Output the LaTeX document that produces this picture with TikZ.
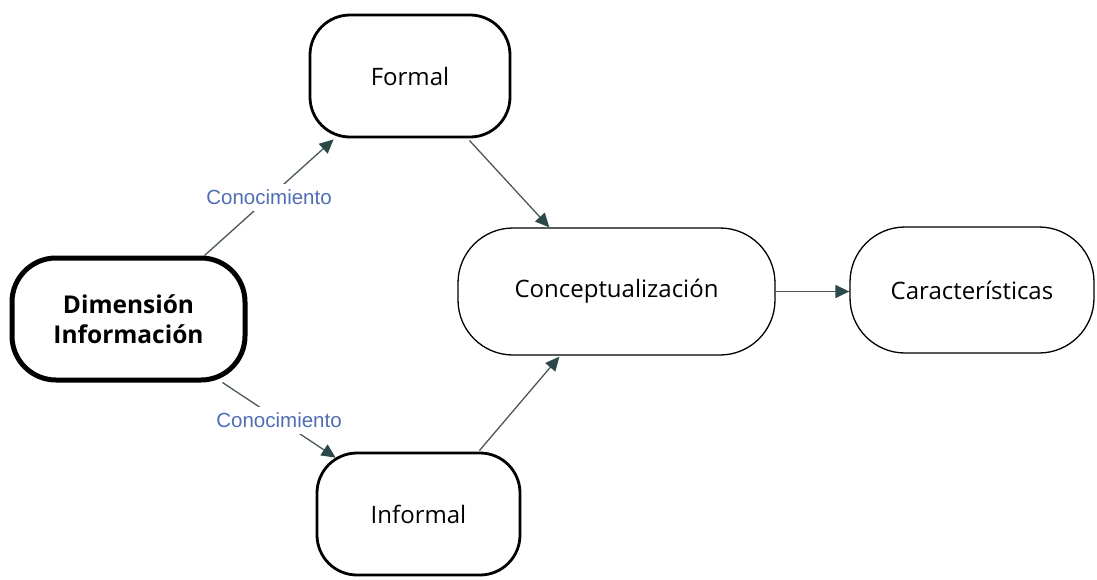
\documentclass[tikz,border=0pt]{standalone}
\usepackage{fontspec}
\setmainfont{Open Sans}
\newfontfamily\linkfont{Liberation Sans}
\usetikzlibrary{arrows.meta,calc}
\definecolor{arrowgray}{RGB}{75,88,88}
\definecolor{tipteal}{RGB}{45,72,72}
\definecolor{linkblue}{RGB}{80,110,180}

\begin{document}
\begin{tikzpicture}[x=1pt,y=-1pt,
  box/.style={draw=black, fill=white, align=center, inner sep=0pt,
    font=\fontsize{24}{30}\selectfont},
  heavybox/.style={box, line width=5pt, rounded corners=44pt},
  mediumbox/.style={box, line width=2.8pt, rounded corners=40pt},
  lightbox/.style={box, line width=1.3pt, rounded corners=55pt},
  link/.style={draw=arrowgray, line width=1.3pt,
    -{Triangle[length=14pt,width=13pt,color=tipteal]}},
  linklabel/.style={fill=white, text=linkblue, inner xsep=2pt, inner ysep=6pt,
    font=\linkfont\fontsize{20.5}{24}\selectfont}
]
\useasboundingbox (0,0) rectangle (1097,579);

% concepts
\node[heavybox, minimum width=233pt, minimum height=122pt,
      font=\fontsize{24.5}{30}\selectfont\bfseries] (dim) at (128.5,319)
      {Dimensión\\Información};
\node[mediumbox, minimum width=200pt, minimum height=122pt] (formal) at (410,76) {Formal};
\node[mediumbox, minimum width=203pt, minimum height=122pt] (informal) at (418.5,514) {Informal};
\node[lightbox, minimum width=317pt, minimum height=127pt] (concept) at (616.5,291.5) {Conceptualización};
\node[lightbox, minimum width=244pt, minimum height=126pt] (caract) at (972,290) {Características};

% attachment points on the rounded borders
\coordinate (dimA) at ($(dim.north east)+(-43,0)$);
\coordinate (dimB) at ($(dim.south east)+(-25,0)$);
\coordinate (formalIn) at ($(formal.south west)+(25,1)$);
\coordinate (formalOut) at ($(formal.south east)+(-42,2)$);
\coordinate (informalIn) at ($(informal.north west)+(20,6)$);
\coordinate (informalOut) at ($(informal.north east)+(-42,-1)$);
\coordinate (conceptTop) at ($(concept.north west)+(92,0)$);
\coordinate (conceptBot) at ($(concept.south west)+(102,1)$);

% connectors
\draw[link] (dimA) -- node[linklabel] {Conocimiento} (formalIn);
\draw[link] (dimB) -- node[linklabel] {Conocimiento} (informalIn);
\draw[link] (formalOut) -- (conceptTop);
\draw[link] (informalOut) -- (conceptBot);
\draw[link] (concept.east) -- (concept.east -| caract.west);
\end{tikzpicture}
\end{document}
